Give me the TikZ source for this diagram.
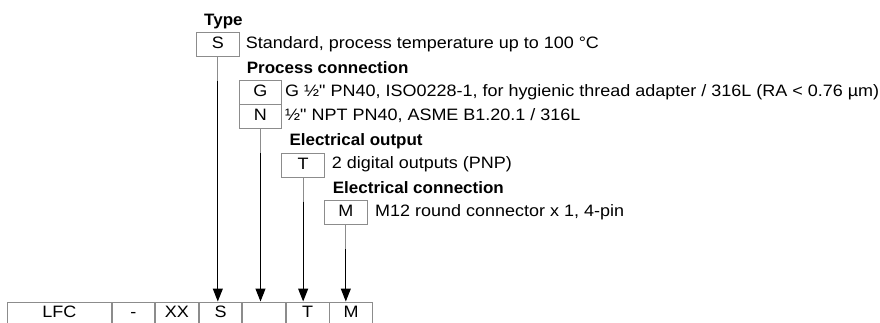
\documentclass[tikz,border=0pt]{standalone}
\usepackage{fontspec}
\setmainfont{Liberation Sans}[FakeStretch=1.09, Ligatures=TeXOff]
\newfontfamily\headfont{Liberation Sans}[FakeStretch=1.03, Ligatures=TeXOff]
\usetikzlibrary{arrows.meta,calc}
\newcommand\mybody{\fontsize{16.5}{19}\selectfont}
\newcommand\myhead{\headfont\bfseries\fontsize{16.5}{19}\selectfont}
\definecolor{boxgray}{gray}{0.55}
\begin{document}
\begin{tikzpicture}[x=1pt,y=-1pt,
  box/.style={draw=boxgray, line width=0.9pt, minimum width=42.67pt, minimum height=24pt,
    inner sep=0pt, text height=12pt, text depth=4pt, font=\mybody, anchor=north west},
  cell/.style={draw=boxgray, line width=0.9pt, minimum width=42.67pt, minimum height=36pt,
    inner sep=0pt, anchor=north west},
  celltext/.style={font=\mybody, anchor=base, inner sep=0pt},
  head/.style={font=\myhead, anchor=base west, inner sep=0pt},
  desc/.style={font=\mybody, anchor=base west, inner sep=0pt},
  lead/.style={draw=boxgray, line width=0.9pt},
  conn/.style={draw=black, line width=1.1pt, -{Triangle[width=10pt,length=13pt]}}
]
\useasboundingbox (0,0) rectangle (880,322);
\clip (0,0) rectangle (880,322);

% bottom row
\coordinate (rowbase) at (0,317.8);
\node[cell, minimum width=103.4pt] (c1) at (7.3,301.5) {};
\node[cell] (c2) at (c1.north east) {};
\node[cell] (c3) at (c2.north east) {};
\node[cell] (c4) at (c3.north east) {};
\node[cell] (c5) at (c4.north east) {};
\node[cell] (c6) at (c5.north east) {};
\node[cell] (c7) at (c6.north east) {};
\node[celltext] (l1) at (c1.north |- rowbase) {LFC};
\node[celltext] (l2) at (c2.north |- rowbase) {-};
\node[celltext] (l3) at (c3.north |- rowbase) {XX};
\node[celltext] (l4) at (c4.north |- rowbase) {S};
\node[celltext] (l6) at (c6.north |- rowbase) {T};
\node[celltext] (l7) at (c7.north |- rowbase) {M};

% Type
\node[head] (hT) at (204,25.3) {Type};
\node[box] (bS) at (196.03,32.3) {S};
\node[desc] (dS) at (245.7,48.3) {Standard, process temperature up to 100 °C};

% Process connection
\node[head] (hP) at (246.7,73.3) {Process connection};
\node[box] (bG) at (238.7,80.3) {G};
\node[box] (bN) at (238.7,104.3) {N};
\node[desc] (dG) at (285,96.3) {G ½" PN40, ISO0228-1, for hygienic thread adapter / 316L (RA < 0.76 µm)};
\node[desc] (dN) at (285,120.3) {½" NPT PN40, ASME B1.20.1 / 316L};

% Electrical output
\node[head] (hE) at (289.3,145.7) {Electrical output};
\node[box] (bT) at (281.37,152.7) {T};
\node[desc] (dT) at (331.7,168.7) {2 digital outputs (PNP)};

% Electrical connection
\node[head] (hC) at (332.7,193.3) {Electrical connection};
\node[box] (bM) at (324.03,200.3) {M};
\node[desc] (dM) at (375,216.3) {M12 round connector x 1, 4-pin};

% connectors
\foreach \b/\c in {bS/c4, bN/c5, bT/c6, bM/c7}{
  \draw[lead] (\b.south) -- ($(\b.south)+(0,24)$);
  \draw[conn] ($(\b.south)+(0,24)$) -- (\b.south |- \c.north);
}
\end{tikzpicture}
\end{document}
